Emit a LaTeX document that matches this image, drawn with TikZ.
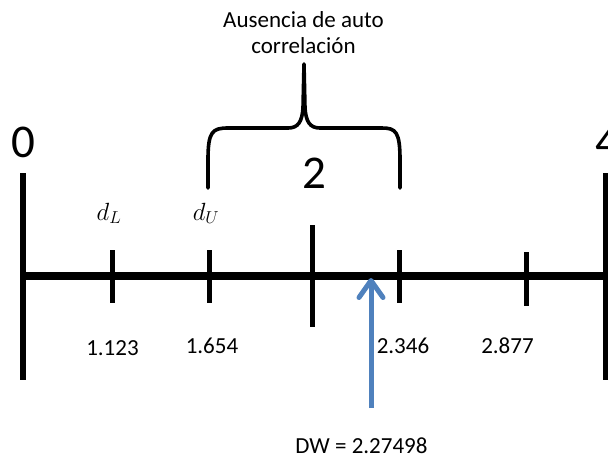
\documentclass[tikz,border=0pt]{standalone}
\usepackage{fontspec}
\setmainfont{Carlito}
\usetikzlibrary{arrows.meta}
\definecolor{dwblue}{HTML}{4F81BD}
\begin{document}
\begin{tikzpicture}[x=1pt,y=-1pt,
  axisline/.style={line width=8pt},
  endbar/.style={line width=5.5pt},
  tickmark/.style={line width=5pt},
  bracepath/.style={line width=3.6pt, line cap=round, line join=round},
  biglabel/.style={font=\fontsize{47}{56}\selectfont, inner sep=0pt, anchor=base},
  numlabel/.style={font=\fontsize{23}{28}\selectfont, inner sep=0pt, anchor=base},
  mathlabel/.style={font=\fontsize{27}{32}\selectfont, inner sep=0pt, anchor=base},
  toplabel/.style={font=\fontsize{23}{26}\selectfont, inner sep=0pt, anchor=base, align=center},
  dwarrow/.style={draw=dwblue, line width=5pt, -{Straight Barb[length=17pt,width=24pt,round]}}
]
\useasboundingbox (0,0) rectangle (608,459);
% coordinates
\coordinate (axL) at (23,276);
\coordinate (axR) at (608,276);
% end bars
\draw[endbar] (23,173) coordinate (lbT) -- (23,380) coordinate (lbB);
\draw[endbar] (606,173) coordinate (rbT) -- (606,380) coordinate (rbB);
% main axis
\draw[axisline] (axL) -- (axR);
% ticks
\draw[tickmark] (112,250) coordinate (tA) -- (112,303);
\draw[tickmark] (209,250) coordinate (tB) -- (209,303);
\draw[tickmark] (312,225) coordinate (tC) -- (312,327);
\draw[tickmark] (399,250) coordinate (tD) -- (399,303);
\draw[tickmark] (526,252) coordinate (tE) -- (526,306);
% big labels
\node[biglabel] (zero) at (23,157) {0};
\node[biglabel] (four) at (607,157) {4};
\node[biglabel] (two) at (314,188) {2};
% d labels
\node[mathlabel] (dL) at (109,220) {$d_L$};
\node[mathlabel] (dU) at (206,220) {$d_U$};
% numbers
\node[numlabel] (n1) at (112.5,355) {1.123};
\node[numlabel] (n2) at (212,353) {1.654};
\node[numlabel] (n3) at (403,353) {2.346};
\node[numlabel] (n4) at (507.5,353) {2.877};
% top text
\node[toplabel] (aus) at (303.5,53) {Ausencia de auto\\correlación};
% brace
\draw[bracepath] (208,188) -- (208,160) .. controls (208,132) and (212,128) .. (228,128)
  -- (288,128) .. controls (298,128) and (302,122) .. (303,108) -- (304,64)
  -- (305,108) .. controls (306,122) and (310,128) .. (320,128)
  -- (382,128) .. controls (396,128) and (400,132) .. (400,160) -- (400,188);
% DW arrow
\node[numlabel] (dw) at (361.5,453) {DW = 2.27498};
\coordinate (dwbase) at (371,408);
\coordinate (dwtip) at (371,278);
\draw[dwarrow] (dwbase) -- (dwtip);
\end{tikzpicture}
\end{document}
